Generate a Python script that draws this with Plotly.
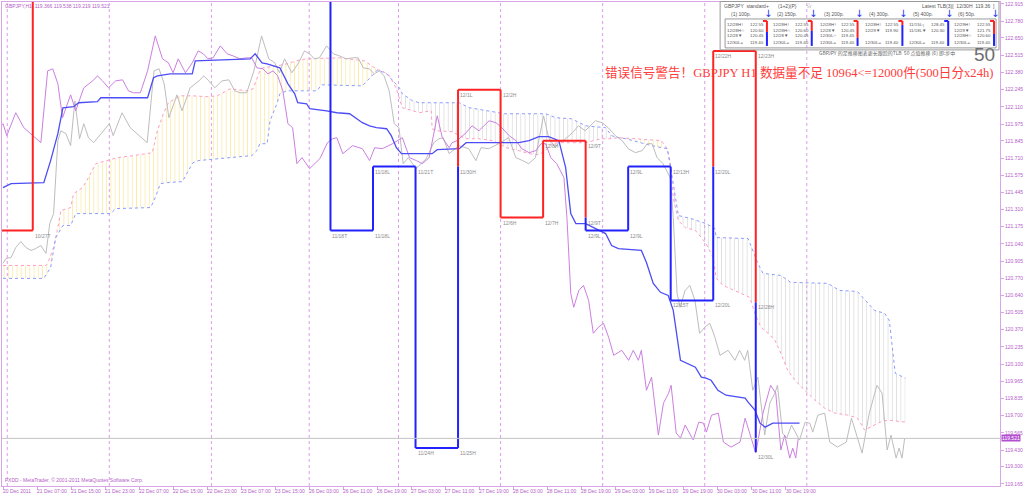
import plotly.graph_objects as go

# ---------------- data ----------------
# price series (bar index, close). Bars < 0 are before the first visible bar.
close_bar = [-25.0, -24.3, -23.1, -22.0, -20.8, -19.6, -18.4, -17.3, -16.1, -14.9, -14.0, -13.1, -12.1, -11.4,
             -10.2, -9.1, -8.1, -7.0, -6.0, -4.9, -3.7, -2.0, -0.9,
             0.0, 0.9, 3.0, 4.9, 7.0, 8.9, 10.5, 11.7, 12.9, 14.0, 15.9, 17.1, 19.0, 21.1, 22.2, 23.4, 24.8, 26.5,
             28.1, 29.5, 30.7, 32.3, 34.0, 35.8, 37.5, 38.9, 40.0, 41.2, 42.9, 44.5, 45.9, 47.1, 48.2, 49.4, 51.1,
             52.7, 54.1, 55.7, 57.4, 58.5, 59.7, 61.1, 62.3, 63.5, 64.6, 65.8, 67.0, 68.1, 69.1, 70.3, 72.1, 74.5,
             76.3, 77.5, 78.5, 79.9, 82.2, 84.5, 86.2, 87.4, 89.2, 91.6, 93.9, 95.6, 97.2, 98.6, 100.2, 102.1,
             103.3, 104.9, 105.6, 106.8, 108.9, 110.3, 111.9, 114.3, 115.9, 117.3, 119.0, 120.6, 122.0, 123.7,
             125.3, 126.5, 127.6, 128.8, 130.2, 131.9, 132.6, 133.5, 134.2, 135.4, 136.5, 137.7, 138.8, 140.0,
             141.2, 142.4, 143.6, 145.5, 147.1, 148.2, 149.4, 150.1, 151.3, 152.5, 154.1, 155.3, 156.5, 157.1,
             158.3, 159.3, 160.4, 162.3, 163.6, 164.7, 165.4, 166.6, 168.2, 169.4, 171.2, 173.3, 174.5, 175.9,
             177.0, 178.7, 180.5, 181.7, 182.9, 183.8, 185.0, 185.7, 186.4, 187.0]
close_val = [120.888, 120.927, 120.934, 121.012, 121.059, 121.012, 120.989, 121.004, 121.028, 120.966, 121.199,
             121.277, 121.847, 121.924, 121.901, 121.808, 122.158, 121.862, 121.979, 121.870, 121.831, 121.901,
             121.940,
             121.979, 121.886, 122.065, 121.948, 121.886, 121.831, 122.392, 122.408, 122.291, 122.026, 122.205,
             122.080, 122.260, 122.314, 122.353, 122.314, 122.260, 122.314, 122.322, 122.236, 122.221, 122.221,
             122.392, 122.665, 122.486, 122.455, 122.377, 122.486, 122.377, 122.455, 122.548, 122.525, 122.486,
             122.494, 122.587, 122.525, 122.509, 122.486, 122.494, 122.494, 122.416, 122.408, 122.369, 122.392,
             122.353, 122.236, 121.979, 121.948, 121.667, 121.714, 121.628, 121.706, 121.831, 121.862, 121.870,
             121.745, 121.808, 121.784, 121.691, 121.792, 121.784, 121.823, 121.870, 121.714, 121.691, 121.667,
             121.714, 122.041, 121.870, 121.792, 121.831, 121.847, 121.909, 121.963, 121.924, 122.002, 121.987,
             121.948, 121.886, 121.847, 121.784, 121.753, 121.769, 121.823, 121.823, 121.714, 121.667, 121.558,
             121.246, 120.654, 120.545, 120.677, 120.716, 120.599, 120.342, 120.389, 120.420, 120.311, 120.170,
             120.209, 120.131, 120.209, 120.131, 120.209, 119.897, 119.999, 119.547, 119.796, 119.874, 119.936,
             119.562, 119.523, 119.625, 119.508, 119.648, 119.640, 119.570, 119.702, 119.718, 119.492, 119.453,
             119.492, 119.679, 119.531, 119.406, 119.718, 119.936, 119.874, 119.430, 119.547, 119.367, 119.445,
             119.367, 119.521]
lag_shift = 25  # grey line = price displaced forward

kijun_bar = [0.0, 1.9, 9.6, 11.2, 12.9, 14.1, 16.6, 17.8, 22.2, 23.0, 34.0, 35.4, 36.3, 39.3, 44.5, 45.2, 58.1,
             59.3, 60.9, 62.1, 65.1, 67.0, 68.6, 69.3, 71.4, 72.1, 76.1, 78.5, 81.5, 83.1, 84.5, 86.2, 87.8, 90.2,
             91.3, 92.5, 93.7, 100.9, 102.1, 107.3, 108.9, 121.3, 123.7, 126.0, 128.3, 130.7, 132.3, 133.5, 134.7,
             137.0, 139.3, 141.7, 143.1, 144.7, 150.1, 151.3, 152.9, 154.6, 156.4, 157.6, 159.3, 160.7, 162.8,
             164.2, 165.3, 166.5, 168.1, 170.0, 172.8, 174.5, 175.2, 176.8, 178.0, 179.2, 181.0, 187.3]
kijun_val = [121.480, 121.511, 121.519, 121.691, 121.901, 122.104, 122.112, 122.143, 122.151, 122.182, 122.182,
             122.338, 122.353, 122.369, 122.369, 122.470, 122.486, 122.525, 122.455, 122.447, 122.416, 122.291,
             122.213, 122.143, 122.135, 122.096, 122.080, 122.065, 122.057, 122.018, 121.987, 121.963, 121.948,
             121.940, 121.886, 121.792, 121.745, 121.745, 121.776, 121.784, 121.831, 121.831, 121.847, 121.878,
             121.878, 121.847, 121.636, 121.277, 121.199, 121.199, 121.160, 121.121, 121.028, 121.004, 120.989,
             120.895, 120.732, 120.662, 120.638, 120.521, 120.131, 120.108, 120.077, 119.999, 119.991, 119.975,
             119.897, 119.858, 119.843, 119.835, 119.804, 119.742, 119.640, 119.609, 119.640, 119.640]

span_a_bar = [0.0, 10.1, 10.5, 11.9, 12.9, 13.6, 15.9, 16.6, 18.7, 20.1, 21.8, 24.6, 26.9, 30.7, 34.0, 35.1, 36.3,
              37.7, 38.9, 41.7, 44.7, 48.0, 50.4, 53.4, 57.4, 58.8, 60.4, 61.1, 64.4, 66.7, 69.8, 71.4, 79.2,
              85.0, 88.1, 89.2, 90.9, 92.5, 93.9, 96.3, 97.9, 100.7, 100.9, 101.9, 105.6, 107.3, 108.9, 111.9,
              115.0, 116.6, 118.3, 121.3, 123.7, 126.0, 127.6, 129.0, 130.7, 137.0, 139.3, 140.7, 143.1, 144.7,
              148.7, 152.5, 154.8, 156.2, 156.9, 157.6, 158.8, 160.4, 162.8, 164.2, 165.3, 167.0, 167.7, 169.3,
              171.7, 173.5, 175.6, 176.8, 178.2, 179.9, 181.5, 182.9, 184.5, 186.2, 188.5, 190.9, 193.2, 195.6,
              198.6, 200.9, 202.6, 204.9, 206.3, 208.0, 212.2]
span_a_val = [120.872, 120.872, 120.888, 121.012, 121.168, 121.301, 121.324, 121.433, 121.480, 121.558, 121.667,
              121.691, 121.714, 121.730, 121.745, 121.753, 121.924, 122.057, 122.143, 122.197, 122.197, 122.190,
              122.197, 122.252, 122.236, 122.252, 122.392, 122.416, 122.431, 122.447, 122.478, 122.486, 122.494,
              122.470, 122.400, 122.392, 122.353, 122.252, 122.104, 122.080, 122.065, 122.080, 121.940, 121.924,
              121.917, 121.886, 121.862, 121.862, 121.847, 121.823, 121.792, 121.769, 121.745, 121.737, 121.769,
              121.823, 121.831, 121.831, 121.847, 121.862, 121.862, 121.870, 121.862, 121.854, 121.847, 121.784,
              121.675, 121.402, 121.223, 121.168, 121.145, 121.090, 121.043, 120.934, 120.771, 120.716, 120.677,
              120.654, 120.622, 120.498, 120.389, 120.342, 120.287, 120.186, 120.053, 119.975, 119.897, 119.820,
              119.757, 119.718, 119.703, 119.679, 119.586, 119.625, 119.648, 119.664, 119.648]
span_b_bar = [0.0, 9.6, 11.2, 12.4, 14.1, 15.9, 17.1, 25.3, 26.5, 34.7, 35.8, 37.0, 38.6, 42.2, 43.6, 44.7, 45.9,
              58.5, 59.7, 60.4, 62.1, 62.8, 64.4, 65.1, 66.7, 73.8, 74.9, 84.5, 88.1, 90.2, 93.2, 93.9, 96.3,
              97.9, 107.3, 109.6, 116.6, 117.3, 127.6, 130.0, 133.7, 137.0, 141.7, 143.1, 144.7, 146.4, 152.5,
              156.2, 157.6, 158.8, 161.8, 165.3, 167.4, 167.7, 175.2, 177.5, 178.7, 182.9, 185.2, 193.9, 196.7,
              200.9, 204.9, 207.3, 208.4, 209.8, 212.2]
span_b_val = [120.771, 120.771, 120.856, 121.090, 121.184, 121.184, 121.277, 121.277, 121.316, 121.324, 121.402,
              121.511, 121.519, 121.527, 121.613, 121.675, 121.691, 121.730, 121.769, 121.823, 121.823, 122.002,
              122.135, 122.213, 122.236, 122.236, 122.283, 122.275, 122.400, 122.369, 122.260, 122.213, 122.158,
              122.143, 122.143, 122.104, 122.065, 122.057, 122.057, 122.026, 122.018, 121.963, 121.948, 121.886,
              121.870, 121.862, 121.808, 121.784, 121.511, 121.262, 121.238, 121.199, 121.160, 121.090, 121.082,
              120.888, 120.810, 120.794, 120.740, 120.732, 120.677, 120.669, 120.521, 120.498, 120.443, 120.030,
              119.991]
cloud_cross = [88.1, 144.7, 156.2]

# line-break boxes
tlb_start = [-3, 7, 77, 87, 97, 107, 117, 127, 137, 147, 157, 167, 177]
tlb_width = [10, 70, 10, 10, 10, 10, 10, 10, 10, 10, 10, 10, 0]
tlb_level = [121.145, 123.600, 121.145, 121.644, 119.445, 122.244, 121.246, 121.847, 121.145, 121.644, 120.599,
             122.548, 119.414]
tlb_dir = ["up", "up", "dn", "dn", "dn", "up", "up", "up", "dn", "dn", "dn", "up", "dn"]
tlb_split = [None, None, None, None, None, 121.644, None, None, 121.246, None, None, 121.644, 120.583]
tlb_labels = [("10/27T", 7, 121.145), ("11/18T", 77, 121.145), ("11/18L", 87, 121.145), ("11/18L", 87, 121.644),
              ("11/21T", 97, 121.644), ("11/24H", 97, 119.445), ("11/25H", 107, 119.445),
              ("11/30H", 107, 121.644), ("12/1L", 107, 122.244), ("12/2H", 117, 122.244),
              ("12/6H", 117, 121.246), ("12/7H", 127, 121.246), ("12/8H", 127, 121.847),
              ("12/9T", 137, 121.847), ("12/9T", 137, 121.246), ("12/9L", 137, 121.145),
              ("12/9L", 147, 121.145), ("12/9L", 147, 121.644), ("12/13H", 157, 121.644),
              ("12/15T", 157, 120.599), ("12/20L", 167, 120.599), ("12/20L", 167, 121.644),
              ("12/22H", 167, 122.548), ("12/23H", 177, 122.548), ("12/28H", 177, 120.583),
              ("12/30L", 177, 119.414)]

bid_price = 119.521
day_sep_bars = [1, 25, 49, 72, 93, 117, 141, 165, 189]
x_tick_bars = [0, 8, 16, 24, 32, 40, 48, 56, 64, 72, 80, 88, 96, 104, 112, 120, 128, 136, 144, 152, 160, 168,
               176, 184]
x_tick_text = ["20 Dec 2011", "21 Dec 07:00", "21 Dec 15:00", "21 Dec 23:00", "22 Dec 07:00", "22 Dec 15:00",
               "22 Dec 23:00", "23 Dec 07:00", "23 Dec 15:00", "26 Dec 03:00", "26 Dec 11:00", "26 Dec 19:00",
               "27 Dec 03:00", "27 Dec 11:00", "27 Dec 19:00", "28 Dec 03:00", "28 Dec 11:00", "28 Dec 19:00",
               "29 Dec 03:00", "29 Dec 11:00", "29 Dec 19:00", "30 Dec 03:00", "30 Dec 11:00", "30 Dec 19:00"]
y_tick_text = ["122.915", "122.780", "122.650", "122.515", "122.380", "122.245", "122.110", "121.975", "121.845",
               "121.710", "121.575", "121.445", "121.310", "121.175", "121.040", "120.905", "120.770", "120.640",
               "120.505", "120.370", "120.235", "120.100", "119.965", "119.835", "119.700", "119.565", "119.430",
               "119.300", "119.165"]

panel_titles = ["(1) 100p.", "(2) 150p.", "(3) 200p.", "(4) 300p.", "(5) 400p.", "(6) 50p."]
panel_names = [["12/28H↑", "12/28H☆", "12/28▼", "12/30L="],
               ["12/28H↑", "12/28H☆", "12/28▼", "12/30L="],
               ["12/28H↑", "12/28▼", "12/30L☆", "12/30L="],
               ["12/28H↑", "12/29▼", "", "12/30L="],
               ["11/15L┐", "11/18L▼", "", "12/30L="],
               ["12/29H↑", "12/29▼", "12/28H☆", "12/30L="]]
panel_prices = [["122.55", "120.60", "120.45", "119.40"],
                ["122.55", "120.60", "120.45", "119.40"],
                ["122.55", "120.45", "119.45", "119.40"],
                ["122.55", "119.90", "", "119.40"],
                ["128.45", "120.30", "", "119.40"],
                ["122.55", "121.75", "120.60", "119.40"]]

# ---------------- geometry / style ----------------
W, H = 1024, 495
PL, PR, PT, PB = 1, 1003, 1, 486
X_RANGE = [-0.234, 234.43]
Y_RANGE = [119.149, 122.930]
AXC = "#b460c8"
FRAME = "#d8a6e6"
SMALL = "Liberation Sans"


def pxx(px):
    return (px - PL) / (PR - PL)


def pxy(py):
    return 1 - (py - PT) / (PB - PT)


fig = go.Figure()

# cloud hatch
bounds = [span_a_bar[0]] + cloud_cross + [span_a_bar[-1]]
for lo, hi in zip(bounds[:-1], bounds[1:]):
    pa = [(b, v) for b, v in zip(span_a_bar, span_a_val) if lo - 1e-6 <= b <= hi + 1e-6]
    pb = [(b, v) for b, v in zip(span_b_bar, span_b_val) if lo - 1e-6 <= b <= hi + 1e-6]
    bull = sum(v for _, v in pa) / len(pa) > sum(v for _, v in pb) / len(pb)
    col = "#f4d64a" if bull else "#b8b8b8"
    xs = [p[0] for p in pa] + [p[0] for p in reversed(pb)]
    ys = [p[1] for p in pa] + [p[1] for p in reversed(pb)]
    fig.add_trace(go.Scatter(x=xs, y=ys, mode="lines", line=dict(width=0), fill="toself",
                             fillcolor="rgba(0,0,0,0)",
                             fillpattern=dict(shape="|", fgcolor=col, bgcolor="rgba(0,0,0,0)", size=4.27,
                                              solidity=0.18),
                             hoverinfo="skip"))

fig.add_trace(go.Scatter(x=span_a_bar, y=span_a_val, mode="lines",
                         line=dict(color="#ff9cc6", width=1, dash="dot"), hoverinfo="skip"))
fig.add_trace(go.Scatter(x=span_b_bar, y=span_b_val, mode="lines",
                         line=dict(color="#8a9cff", width=1, dash="dot"), hoverinfo="skip"))

# lagging grey line and price line
fig.add_trace(go.Scatter(x=[b + lag_shift for b in close_bar], y=close_val, mode="lines",
                         line=dict(color="#bdbdbd", width=1), hoverinfo="skip"))
fig.add_trace(go.Scatter(x=close_bar, y=close_val, mode="lines",
                         line=dict(color="#cc7fe0", width=1), hoverinfo="skip"))
fig.add_trace(go.Scatter(x=kijun_bar, y=kijun_val, mode="lines",
                         line=dict(color="#4d4df5", width=1.3), hoverinfo="skip"))

# line-break boxes
seg = {"red": ([], []), "blue": ([], [])}


def add_seg(c, x0, y0, x1, y1):
    seg[c][0].extend([x0, x1, None])
    seg[c][1].extend([y0, y1, None])


for i in range(len(tlb_start)):
    s, lv = tlb_start[i], tlb_level[i]
    c = "red" if tlb_dir[i] == "up" else "blue"
    if i > 0:
        prev = tlb_level[i - 1]
        sp = tlb_split[i]
        if sp is None:
            add_seg(c, s, prev, s, lv)
        else:
            lo, hi = min(prev, lv), max(prev, lv)
            add_seg("blue", s, lo, s, sp)
            add_seg("red", s, sp, s, hi)
    if tlb_width[i] > 0:
        add_seg(c, s, lv, s + tlb_width[i], lv)

fig.add_trace(go.Scatter(x=seg["red"][0], y=seg["red"][1], mode="lines",
                         line=dict(color="#ff2222", width=2), hoverinfo="skip"))
fig.add_trace(go.Scatter(x=seg["blue"][0], y=seg["blue"][1], mode="lines",
                         line=dict(color="#2222ff", width=2), hoverinfo="skip"))

for txt, b, lv in tlb_labels:
    fig.add_annotation(x=b, y=lv, xref="x", yref="y", text=txt, showarrow=False, xanchor="left",
                       yanchor="top", xshift=1, yshift=-1, borderpad=0,
                       font=dict(size=5, color="#8c8c8c", family=SMALL))

# day separators and bid line
for b in day_sep_bars:
    fig.add_shape(type="line", xref="x", yref="paper", x0=b, x1=b, y0=0, y1=1,
                  line=dict(color="#dd9cec", width=1, dash="dot"), layer="below")
fig.add_shape(type="line", xref="paper", yref="y", x0=0, x1=1, y0=bid_price, y1=bid_price,
              line=dict(color="#c4c4c4", width=1))

# x tick labels (left aligned at the tick, MT4 style)
for b, t in zip(x_tick_bars, x_tick_text):
    fig.add_annotation(x=b, y=pxy(491), xref="x", yref="paper", text=t, showarrow=False, xanchor="left",
                       yanchor="middle", xshift=-1, borderpad=0, font=dict(size=5, color=AXC, family=SMALL))

# bid label on the price scale
fig.add_annotation(x=pxx(1004), y=bid_price, xref="paper", yref="y", text=f"{bid_price:.3f}", showarrow=False,
                   xanchor="left", yanchor="middle", bgcolor="#b24fd0", borderpad=0,
                   font=dict(size=5, color="white", family=SMALL))

# header texts
fig.add_annotation(x=pxx(3), y=pxy(5), xref="paper", yref="paper",
                   text="GBPJPY,H1  119.366 119.538 119.219 119.521", showarrow=False, xanchor="left",
                   yanchor="middle", borderpad=0, font=dict(size=5, color=AXC, family=SMALL))
fig.add_annotation(x=pxx(3), y=pxy(480), xref="paper", yref="paper",
                   text="FXDD - MetaTrader, © 2001-2011 MetaQuotes Software Corp.", showarrow=False,
                   xanchor="left", yanchor="middle", borderpad=0, font=dict(size=5, color=AXC, family=SMALL))
fig.add_annotation(x=pxx(605), y=pxy(71.5), xref="paper", yref="paper",
                   text="错误信号警告！GBPJPY H1 数据量不足 10964<=12000件(500日分x24h)", showarrow=False,
                   xanchor="left", yanchor="middle", borderpad=0,
                   font=dict(size=12.6, color="#ff3b3b", family="Liberation Serif, Noto Sans CJK SC"))
fig.add_annotation(x=pxx(999), y=pxy(54), xref="paper", yref="paper", text="50", showarrow=False,
                   xanchor="right", yanchor="middle", borderpad=0,
                   font=dict(size=19, color="#6e6e6e", family="Liberation Sans"))
fig.add_annotation(x=pxx(820), y=pxy(52), xref="paper", yref="paper",
                   text="GBPJPY 的足推移图表更长跟踪的TLB  50 点值推移 (6) 即:步中", showarrow=False,
                   xanchor="left", yanchor="middle", borderpad=0,
                   font=dict(size=5, color="#666666", family="Noto Sans CJK SC"))


# info panel
def rect_px(x0, y0, x1, y1, color, width=1):
    fig.add_shape(type="rect", xref="paper", yref="paper", x0=pxx(x0), x1=pxx(x1), y0=pxy(y0), y1=pxy(y1),
                  line=dict(color=color, width=width))


def line_px(x0, y0, x1, y1, color, width=1):
    fig.add_shape(type="line", xref="paper", yref="paper", x0=pxx(x0), x1=pxx(x1), y0=pxy(y0), y1=pxy(y1),
                  line=dict(color=color, width=width))


def txt_px(t, x, y, size=5, color="#555555", anchor="left", family=SMALL):
    fig.add_annotation(x=pxx(x), y=pxy(y), xref="paper", yref="paper", text=t, showarrow=False,
                       xanchor=anchor, yanchor="middle", borderpad=0,
                       font=dict(size=size, color=color, family=family))


rect_px(722, 0.5, 1002, 49, "#9a9a9a")
rect_px(727, 18, 999, 47, "#9a9a9a")
txt_px("GBPJPY  standard+", 725, 5)
txt_px("(1+2)(P)", 779, 5)
txt_px("☆", 807, 5, size=7)
txt_px("Latest TLB(3)[  12/30H  119.36  ]", 999, 5, anchor="right")

col_text_x = [728, 774, 821, 866, 911, 956]
col_bar_x = [769, 814, 860, 905, 951, 997]
col_split_y = [31, 30, 37, 24, 20, 33]
row_y = [24, 29.5, 35, 41.5]
for c in range(6):
    txt_px(panel_titles[c], col_text_x[c] + 4, 13.5)
    txt_px("↓", col_bar_x[c] + 1, 12.5, size=10, color="#2233ee", anchor="center", family="DejaVu Sans")
    for r in range(4):
        if panel_names[c][r]:
            txt_px(panel_names[c][r], col_text_x[c], row_y[r], size=4.4)
            txt_px(panel_prices[c][r], col_bar_x[c] - 2, row_y[r], size=4.4, anchor="right")
    bx = col_bar_x[c]
    if col_split_y[c] > 20:
        line_px(bx, 20, bx, col_split_y[c], "#ff2222", 2)
        line_px(bx - 4, 20, bx, 20, "#ff2222", 2)
    else:
        line_px(bx - 4, 20, bx, 20, "#2222ff", 2)
    line_px(bx, col_split_y[c], bx, 45, "#2222ff", 2)

fig.update_layout(
    width=W, height=H, autosize=False,
    margin=dict(l=PL, r=W - PR, t=PT, b=H - PB, pad=0),
    paper_bgcolor="white", plot_bgcolor="white", showlegend=False, hovermode=False,
    xaxis=dict(range=X_RANGE, showgrid=False, zeroline=False, showline=True, mirror=True, linecolor=FRAME,
               linewidth=1, ticks="outside", ticklen=3, tickcolor=FRAME, tickvals=x_tick_bars,
               showticklabels=False, fixedrange=True),
    yaxis=dict(range=Y_RANGE, side="right", showgrid=False, zeroline=False, showline=True, mirror=True,
               linecolor=FRAME, linewidth=1, ticks="outside", ticklen=3, tickcolor=FRAME,
               tickvals=[float(t) for t in y_tick_text], ticktext=y_tick_text,
               tickfont=dict(size=5, color=AXC, family=SMALL), fixedrange=True),
)

fig.write_html("out.html", config={"displayModeBar": False},
               post_script="document.body.style.margin='0px';document.body.style.overflow='hidden';")
